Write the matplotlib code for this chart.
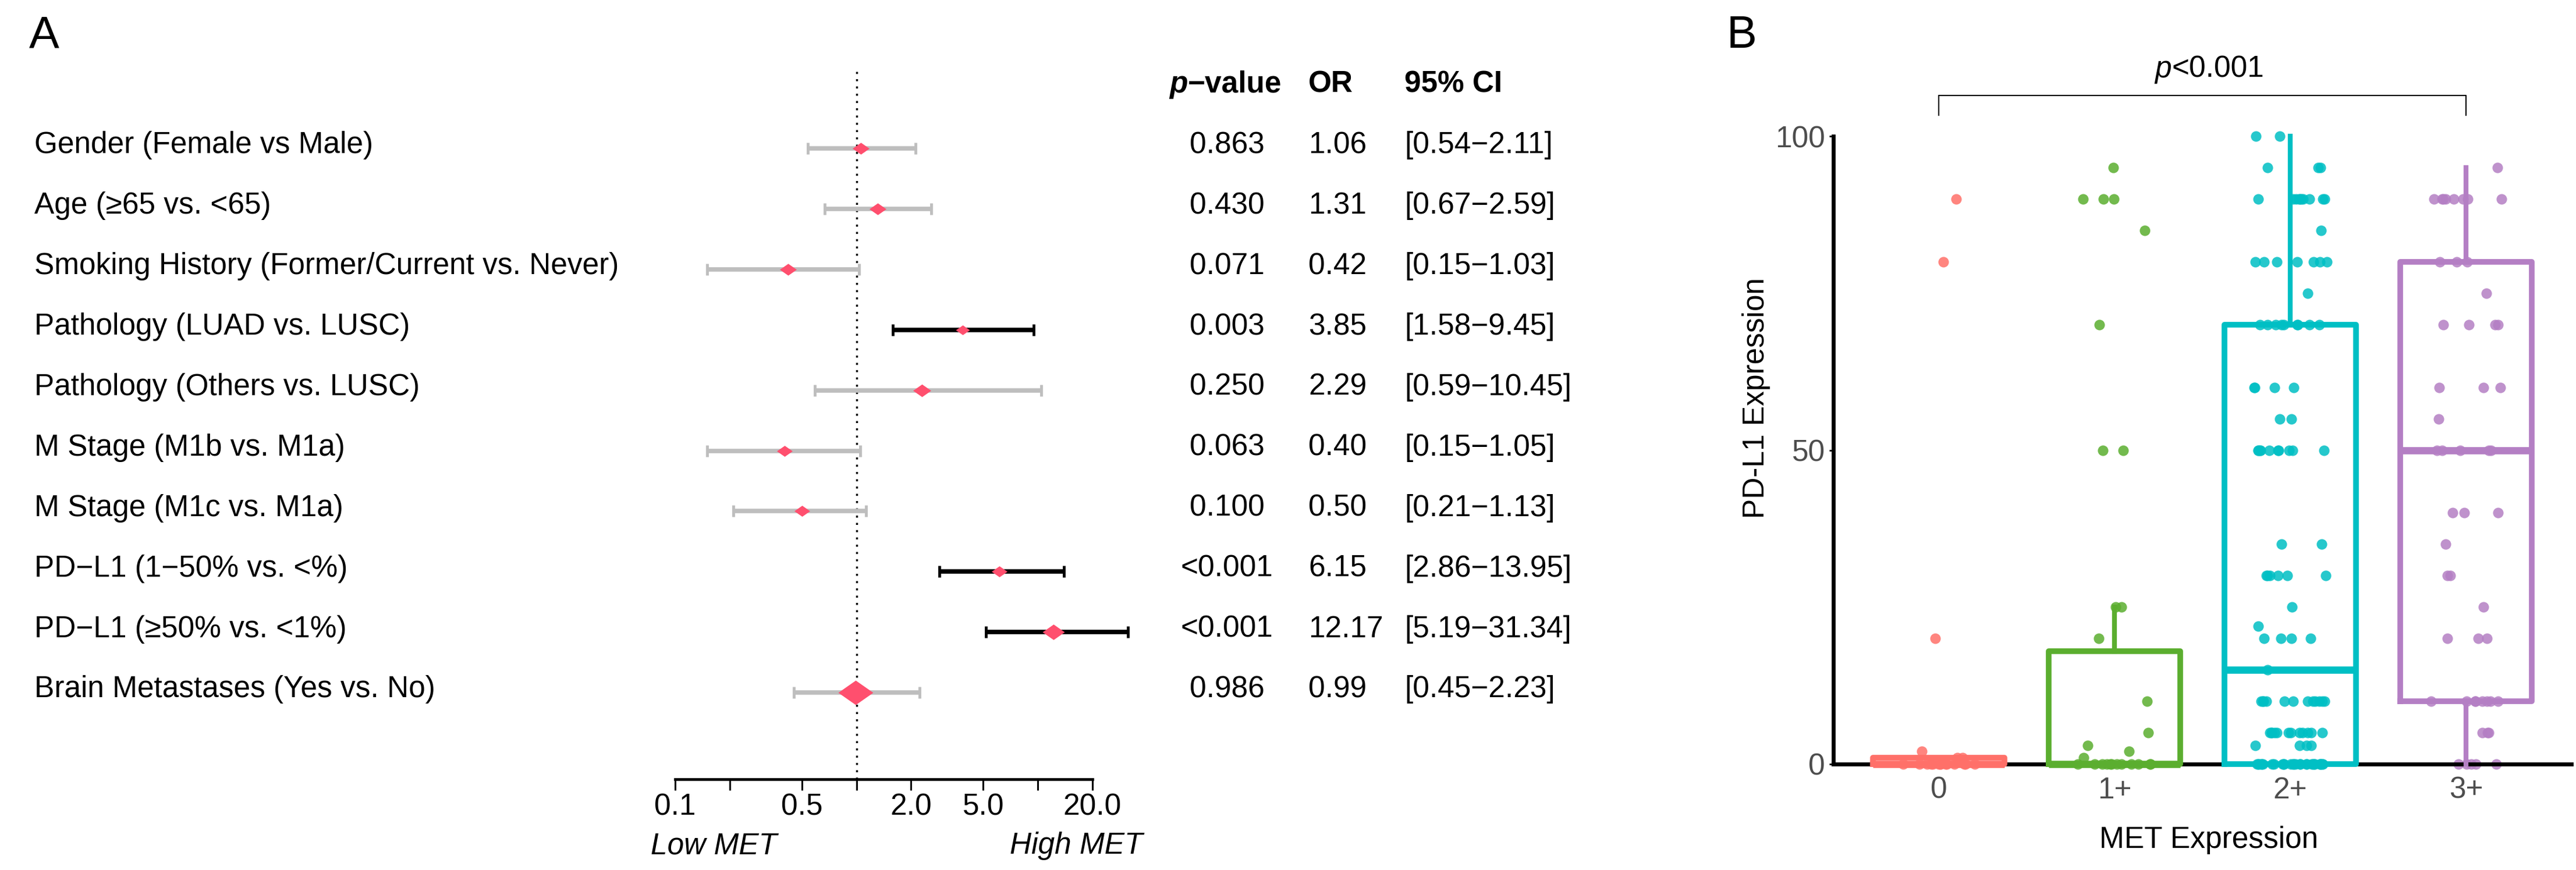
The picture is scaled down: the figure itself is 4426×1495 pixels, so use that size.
import numpy as np
import matplotlib
matplotlib.use('Agg')
import matplotlib.pyplot as plt
from matplotlib.path import Path
from matplotlib.transforms import blended_transform_factory

plt.rcParams['font.family'] = ['Liberation Sans', 'DejaVu Sans']

# ---- 数据 A: 森林图 ----
labels = ['Gender (Female vs Male)', 'Age (\u226565 vs. <65)',
          'Smoking History (Former/Current vs. Never)', 'Pathology (LUAD vs. LUSC)',
          'Pathology (Others vs. LUSC)', 'M Stage (M1b vs. M1a)', 'M Stage (M1c vs. M1a)',
          'PD\u2212L1 (1\u221250% vs. <%)', 'PD\u2212L1 (\u226550% vs. <1%)',
          'Brain Metastases (Yes vs. No)']
p_text = ['0.863', '0.430', '0.071', '0.003', '0.250', '0.063', '0.100', '<0.001', '<0.001', '0.986']
or_val = [1.06, 1.31, 0.42, 3.85, 2.29, 0.40, 0.50, 6.15, 12.17, 0.99]
ci_lo = [0.54, 0.67, 0.15, 1.58, 0.59, 0.15, 0.21, 2.86, 5.19, 0.45]
ci_hi = [2.11, 2.59, 1.03, 9.45, 10.45, 1.05, 1.13, 13.95, 31.34, 2.23]
x_ticks = [0.1, 0.2, 0.5, 1, 2, 5, 10, 20]
x_ticklabels = ['0.1', '', '0.5', '', '2.0', '5.0', '', '20.0']

# ---- 数据 B: 箱线图 ----
groups = ['0', '1+', '2+', '3+']
pts_0 = [90, 80, 20, 2, 1, 1] + [0] * 14
pts_1 = [95, 90, 90, 90, 85, 70, 50, 50, 25, 25, 20, 10, 5, 3, 2, 1] + [0] * 12
pts_2 = ([100, 100, 95, 95, 95] + [90] * 10 + [85] + [80] * 7 + [75] + [70] * 9 + [60] * 4
         + [55] * 2 + [50] * 10 + [35] * 2 + [30] * 6 + [25, 22] + [20] * 4 + [15]
         + [10] * 12 + [5] * 12 + [3] * 4 + [0] * 28)
pts_3 = ([95] + [90] * 8 + [80] * 3 + [75] + [70] * 4 + [60] * 3 + [55] + [50] * 5 + [40] * 3
         + [35] + [30] * 2 + [25] + [20] * 3 + [10] * 8 + [5] * 3 + [0] * 5)
box_q1 = [0, 0, 0, 10]
box_med = [0, 0, 15, 50]
box_q3 = [1, 18, 70, 80]
whis_lo = [0, 0, 0, 0]
whis_hi = [1, 25, 100, 95]

# 画布 (像素坐标)
W, H = 4426, 1495
fig = plt.figure(figsize=(W / 100, H / 100), dpi=100)
def fx(px):
    return px / W
def fy(py):
    return 1 - py / H

FS = 37
pink = '#FF4F6E'
grey = '#BEBEBE'

# ======== A ========
row0, dy = 255, 103.9
top_px, bot_px = 119, 1339
ax = fig.add_axes([fx(1160), fy(bot_px), (1877 - 1160) / W, (bot_px - top_px) / H])
ax.set_xscale('log')
ax.set_xlim(0.1, 20)
ax.set_ylim((bot_px - row0) / dy, (top_px - row0) / dy)
ax.axvline(1, color='black', lw=2.5, linestyle=(0, (1, 2.6)), zorder=1)

diamond = Path([(-1, 0), (0, 0.7), (1, 0), (0, -0.7), (-1, 0)],
               [Path.MOVETO, Path.LINETO, Path.LINETO, Path.LINETO, Path.CLOSEPOLY])
mk_w = [29, 29, 29, 24, 31, 27, 27, 27, 38, 60]  # 菱形宽度(像素)

for i in range(len(labels)):
    c = 'black' if ci_lo[i] > 1 else grey
    ax.plot([ci_lo[i], ci_hi[i]], [i, i], color=c, lw=5.5, solid_capstyle='butt',
            clip_on=False, zorder=2)
    ax.plot([ci_lo[i], ci_hi[i]], [i, i], ls='none', marker='|', ms=14, mew=3.5,
            color=c, clip_on=False, zorder=2)
    ax.plot(or_val[i], i, marker=diamond, ms=mk_w[i] * 0.72, color=pink, mec='none',
            clip_on=False, zorder=4)

for s in ['top', 'right', 'left']:
    ax.spines[s].set_visible(False)
ax.spines['bottom'].set_linewidth(3.4)
ax.set_yticks([])
ax.set_xticks(x_ticks)
ax.set_xticklabels(x_ticklabels)
ax.xaxis.set_minor_locator(matplotlib.ticker.NullLocator())
ax.tick_params(axis='x', length=13.7, width=2.2, pad=3, labelsize=FS)

tr = blended_transform_factory(fig.transFigure, ax.transData)
for i in range(len(labels)):
    yy = i - 0.05
    ax.text(fx(59), yy, labels[i], transform=tr, ha='left', va='center', fontsize=FS)
    ax.text(fx(2108), yy, p_text[i], transform=tr, ha='center', va='center', fontsize=FS)
    ax.text(fx(2248), yy, '%.2f' % or_val[i], transform=tr, ha='left', va='center', fontsize=FS)
    ax.text(fx(2413), yy, '[%.2f\u2212%.2f]' % (ci_lo[i], ci_hi[i]), transform=tr,
            ha='left', va='center', fontsize=FS)

# 表头
hy = (145 - row0) / dy
ax.text(fx(2041), hy, 'p', transform=tr, ha='right', va='center', fontsize=FS,
        style='italic', weight='bold')
ax.text(fx(2041), hy, '\u2212value', transform=tr, ha='left', va='center', fontsize=FS, weight='bold')
ax.text(fx(2248), hy, 'OR', transform=tr, ha='left', va='center', fontsize=FS, weight='bold')
ax.text(fx(2413), hy, '95% CI', transform=tr, ha='left', va='center', fontsize=FS, weight='bold')

fig.text(fx(1226), fy(1454), 'Low MET', ha='center', va='center', fontsize=FS, style='italic')
fig.text(fx(1849), fy(1454), 'High MET', ha='center', va='center', fontsize=FS, style='italic')
fig.text(fx(50), fy(62), 'A', ha='left', va='center', fontsize=56)

# ======== B ========
cols = ['#FF7069', '#5BAE2F', '#00BFC4', '#B47FC4']
pts = [pts_0, pts_1, pts_2, pts_3]
x0_px, sp = 3331, 302
y0_px, upy = 1313, 10.79
ytop = 117
bx = fig.add_axes([fx(x0_px - 0.6 * sp), fy(y0_px), 4.2 * sp / W, ytop * upy / H])
bx.set_xlim(0.4, 4.6)
bx.set_ylim(0, ytop)

# 抖动点 (确定性的水平抖动, 只影响x位置)
for k in range(4):
    v = np.array(pts[k])
    idx = np.arange(len(v)) + 1 + 50 * k
    off = (np.sin(idx * 12.9898 + 78.233) * 43758.5453) % 1
    off = (off - 0.5) * 0.42
    bx.scatter(k + 1 + off, v, s=170, color=cols[k], alpha=0.85, linewidths=0,
               zorder=2, clip_on=False)

# 箱子
for k in range(4):
    st = dict(med=box_med[k], q1=box_q1[k], q3=box_q3[k], whislo=whis_lo[k],
              whishi=whis_hi[k], fliers=[])
    art = bx.bxp([st], positions=[k + 1], widths=0.75, showfliers=False, showcaps=False,
                 boxprops=dict(color=cols[k], lw=7),
                 whiskerprops=dict(color=cols[k], lw=6),
                 medianprops=dict(color=cols[k], lw=9, solid_capstyle='butt'),
                 manage_ticks=False)
    for key in art:
        for a in art[key]:
            a.set_zorder(3)
            a.set_clip_on(False)

for s in ['top', 'right']:
    bx.spines[s].set_visible(False)
bx.spines['left'].set_bounds(0, 100)
bx.spines['left'].set_linewidth(4.8)
bx.spines['bottom'].set_linewidth(5)
bx.set_yticks([0, 50, 100])
bx.set_xticks([1, 2, 3, 4])
bx.set_xticklabels(groups)
bx.tick_params(axis='y', length=5, width=2, pad=5, labelsize=FS, labelcolor='#4D4D4D')
bx.tick_params(axis='x', length=0, pad=15, labelsize=FS, labelcolor='#4D4D4D')

# 显著性括号
bx.plot([1, 1, 4, 4], [103.3, 106.5, 106.5, 103.3], color='black', lw=1.5, clip_on=False)
fig.text(fx(3731), fy(119), 'p', ha='right', va='center', fontsize=FS, style='italic')
fig.text(fx(3731), fy(119), '<0.001', ha='left', va='center', fontsize=FS)

fig.text(fx(3795), fy(1444), 'MET Expression', ha='center', va='center', fontsize=FS)
fig.text(fx(3017), fy(684), 'PD-L1 Expression', ha='center', va='center', fontsize=FS,
         rotation=90)
fig.text(fx(2967), fy(62), 'B', ha='left', va='center', fontsize=56)

fig.savefig('out.png', dpi=100)
